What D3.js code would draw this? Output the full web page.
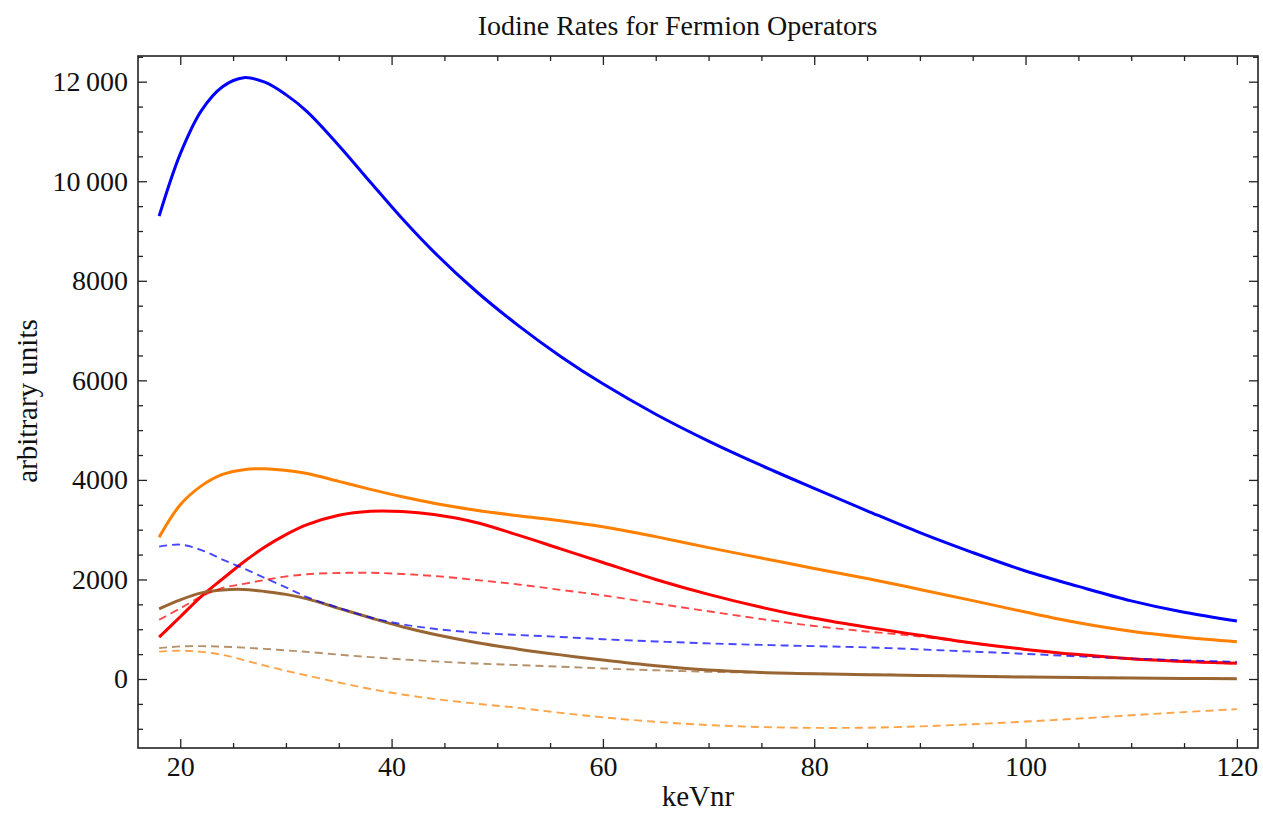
<!DOCTYPE html>
<html>
<head>
<meta charset="utf-8">
<title>Iodine Rates for Fermion Operators</title>
<script src="https://cdn.jsdelivr.net/npm/d3@7"></script>
<style>
  html, body { margin: 0; padding: 0; background: #fff; }
  svg text { font-family: "Liberation Serif", "Times New Roman", serif; fill: #111; }
</style>
</head>
<body>
<svg id="chart" width="1263" height="822"></svg>
<script>
const energies = [18, 20, 22, 24, 26, 28, 30, 32, 35, 38, 41, 44, 48, 52, 56, 60, 65, 70, 75, 80, 85, 90, 95, 100, 105, 110, 115, 120];

// solid curves
const blueSolid   = [9300, 10550, 11420, 11900, 12080, 11990, 11740, 11400, 10720, 9980, 9250, 8580, 7790, 7100, 6480, 5930, 5320, 4780, 4290, 3830, 3380, 2940, 2540, 2170, 1860, 1570, 1340, 1165];
const orangeSolid = [2850, 3500, 3880, 4110, 4205, 4225, 4190, 4130, 3970, 3810, 3660, 3530, 3390, 3280, 3180, 3060, 2860, 2640, 2430, 2220, 2020, 1800, 1575, 1345, 1130, 960, 840, 750];
const redSolid    = [840, 1250, 1660, 2010, 2350, 2650, 2900, 3100, 3290, 3370, 3365, 3305, 3145, 2890, 2615, 2340, 2000, 1700, 1440, 1220, 1040, 880, 725, 595, 490, 405, 352, 318];
const brownSolid  = [1410, 1590, 1730, 1790, 1800, 1760, 1700, 1610, 1420, 1230, 1050, 900, 735, 600, 485, 380, 265, 180, 132, 105, 88, 72, 55, 40, 28, 18, 10, 5];

// dashed curves
const blueDashed   = [2660, 2700, 2590, 2400, 2220, 2030, 1840, 1645, 1430, 1235, 1100, 1010, 930, 885, 845, 800, 755, 715, 685, 660, 635, 595, 550, 505, 455, 410, 375, 345];
const redDashed    = [1190, 1420, 1660, 1830, 1910, 1990, 2060, 2105, 2130, 2135, 2110, 2070, 1990, 1900, 1790, 1680, 1520, 1360, 1205, 1065, 955, 855, 715, 590, 480, 400, 345, 305];
const brownDashed  = [620, 655, 660, 650, 630, 605, 575, 545, 490, 440, 395, 355, 312, 280, 248, 212, 175, 145, 125, 108, 92, 77, 60, 45, 32, 22, 14, 8];
const orangeDashed = [550, 570, 545, 485, 380, 270, 165, 70, -70, -200, -310, -400, -495, -580, -680, -770, -860, -925, -965, -982, -978, -952, -908, -855, -795, -728, -665, -605];

const xMajor = [20, 40, 60, 80, 100, 120];
const yMajor = [0, 2000, 4000, 6000, 8000, 10000, 12000];

const series = [
  { values: blueSolid,    color: "#0000ff", dashed: false },
  { values: orangeSolid,  color: "#ff8000", dashed: false },
  { values: redSolid,     color: "#ff0000", dashed: false },
  { values: brownSolid,   color: "#996633", dashed: false },
  { values: blueDashed,   color: "#0000ff", dashed: true },
  { values: redDashed,    color: "#ff0000", dashed: true },
  { values: brownDashed,  color: "#996633", dashed: true },
  { values: orangeDashed, color: "#ff8000", dashed: true }
];

const svg = d3.select("#chart");
const plotLeft = 138, plotRight = 1258, plotTop = 56, plotBottom = 748;

const x = d3.scaleLinear().domain([16, 122]).range([plotLeft, plotRight]);
const y = d3.scaleLinear().domain([-1386, 12516]).range([plotBottom, plotTop]);

// numbers like 12000 get a thin-space group separator, as in the original
function fmt(v) {
  return v >= 10000 ? d3.format(",")(v).replace(",", "\u2009") : String(v);
}

const xMinor = d3.range(20, 121, 5).filter(v => xMajor.indexOf(v) < 0);
const yMinor = d3.range(-1000, 12501, 500).filter(v => yMajor.indexOf(v) < 0);

function styleAxis(g) {
  g.select(".domain").remove();
  g.selectAll(".tick line").attr("stroke", "#222").attr("stroke-width", 1.3);
  g.selectAll(".tick text").attr("font-size", 28).attr("fill", "#111");
}

// bottom / top
svg.append("g").attr("transform", `translate(0,${plotBottom})`)
  .call(d3.axisBottom(x).tickValues(xMajor).tickSize(-9).tickPadding(8).tickFormat(d3.format("d")))
  .call(styleAxis);
svg.append("g").attr("transform", `translate(0,${plotBottom})`)
  .call(d3.axisBottom(x).tickValues(xMinor).tickSize(-5).tickFormat(""))
  .call(styleAxis);
svg.append("g").attr("transform", `translate(0,${plotTop})`)
  .call(d3.axisTop(x).tickValues(xMajor).tickSize(-9).tickFormat(""))
  .call(styleAxis);
svg.append("g").attr("transform", `translate(0,${plotTop})`)
  .call(d3.axisTop(x).tickValues(xMinor).tickSize(-5).tickFormat(""))
  .call(styleAxis);

// left / right
svg.append("g").attr("transform", `translate(${plotLeft},0)`)
  .call(d3.axisLeft(y).tickValues(yMajor).tickSize(-9).tickPadding(10).tickFormat(fmt))
  .call(styleAxis);
svg.append("g").attr("transform", `translate(${plotLeft},0)`)
  .call(d3.axisLeft(y).tickValues(yMinor).tickSize(-5).tickFormat(""))
  .call(styleAxis);
svg.append("g").attr("transform", `translate(${plotRight},0)`)
  .call(d3.axisRight(y).tickValues(yMajor).tickSize(-9).tickFormat(""))
  .call(styleAxis);
svg.append("g").attr("transform", `translate(${plotRight},0)`)
  .call(d3.axisRight(y).tickValues(yMinor).tickSize(-5).tickFormat(""))
  .call(styleAxis);

// curves
const line = d3.line()
  .x((d, i) => x(energies[i]))
  .y(d => y(d))
  .curve(d3.curveCatmullRom.alpha(0.5));

const curves = svg.append("g");
series.forEach(s => {
  curves.append("path")
    .attr("d", line(s.values))
    .attr("fill", "none")
    .attr("stroke", s.color)
    .attr("stroke-width", s.dashed ? 1.9 : 3)
    .attr("stroke-opacity", s.dashed ? 0.72 : 1)
    .attr("stroke-dasharray", s.dashed ? "8,5" : null)
    .attr("stroke-linejoin", "round");
});

// frame
svg.append("rect")
  .attr("x", plotLeft).attr("y", plotTop)
  .attr("width", plotRight - plotLeft).attr("height", plotBottom - plotTop)
  .attr("fill", "none").attr("stroke", "#222").attr("stroke-width", 1.6);

// title and axis labels
svg.append("text")
  .attr("x", 677.5).attr("y", 35)
  .attr("text-anchor", "middle").attr("font-size", 28)
  .text("Iodine Rates for Fermion Operators");

svg.append("text")
  .attr("x", (plotLeft + plotRight) / 2).attr("y", 806)
  .attr("text-anchor", "middle").attr("font-size", 29)
  .text("keVnr");

svg.append("text")
  .attr("transform", "translate(37,401) rotate(-90)")
  .attr("text-anchor", "middle").attr("font-size", 29)
  .text("arbitrary units");
</script>
</body>
</html>
